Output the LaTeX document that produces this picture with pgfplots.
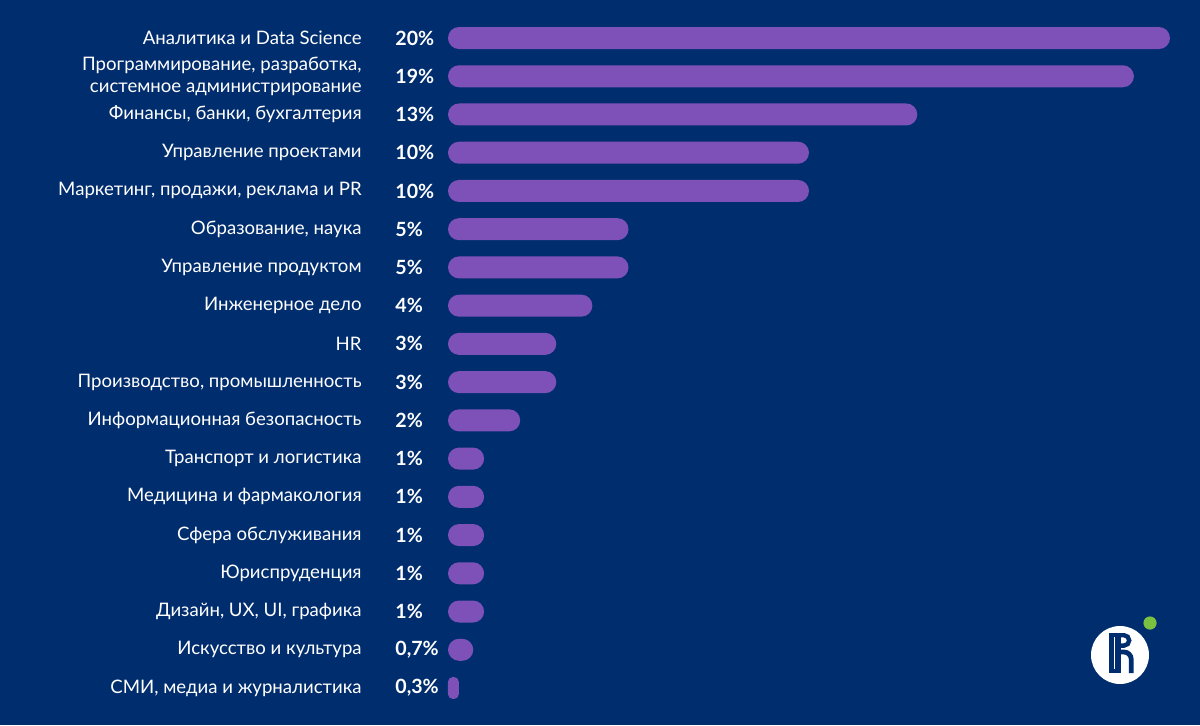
\documentclass[border=0pt]{standalone}
\usepackage{pgfplots}
\pgfplotsset{compat=1.18}
\usepackage{pgfplotstable}
\usepackage{fontspec}
\setmainfont{Lato}
\definecolor{bg}{RGB}{0,45,110}
\definecolor{barc}{RGB}{126,81,185}
\definecolor{hsegreen}{RGB}{122,193,66}
\pgfplotstableread{
y v pct
0 20 {20\%}
1 19 {19\%}
2 13 {13\%}
3 10 {10\%}
4 10 {10\%}
5 5 {5\%}
6 5 {5\%}
7 4 {4\%}
8 3 {3\%}
9 3 {3\%}
10 2 {2\%}
11 1 {1\%}
12 1 {1\%}
13 1 {1\%}
14 1 {1\%}
15 1 {1\%}
16 0.7 {0,7\%}
17 0.3 {0,3\%}
}\datatable
\begin{document}
\begin{tikzpicture}
\fill[bg] (0,0) rectangle (600pt,362.5pt);
\begin{axis}[
  at={(224pt,8.95pt)}, anchor=south west,
  scale only axis, width=361pt, height=344.1pt,
  xmin=0, xmax=20, ymin=-0.5, ymax=17.5, y dir=reverse,
  axis line style={draw=none}, tick style={draw=none},
  xtick=\empty, ytick={0,...,17},
  yticklabels={
    Аналитика и Data Science,
    {Программирование, разработка,\\системное администрирование},
    {Финансы, банки, бухгалтерия},
    Управление проектами,
    {Маркетинг, продажи, реклама и PR},
    {Образование, наука},
    Управление продуктом,
    Инженерное дело,
    HR,
    {Производство, промышленность},
    Информационная безопасность,
    Транспорт и логистика,
    Медицина и фармакология,
    Сфера обслуживания,
    Юриспруденция,
    {Дизайн, UX, UI, графика},
    Искусство и культура,
    {СМИ, медиа и журналистика}},
  yticklabel style={anchor=east, inner sep=0pt, xshift=-43pt, align=right,
    text=white, font=\fontsize{9.3}{11}\selectfont},
  clip=false,
]
\addplot[xbar, fill=barc, draw=none, bar width=11pt, bar shift=0pt, rounded corners=5.5pt]
  table[x=v, y=y, restrict expr to domain={\thisrow{y}}{0:16}] {\datatable};
\addplot[xbar, fill=barc, draw=none, bar width=11pt, bar shift=0pt, rounded corners=2.4pt]
  table[x=v, y=y, restrict expr to domain={\thisrow{y}}{17:17}] {\datatable};
\addplot[draw=none, mark=none, nodes near coords, point meta=explicit symbolic,
  every node near coord/.append style={anchor=west, inner sep=0pt, text=white,
    font=\fontsize{9.8}{12}\selectfont\bfseries}]
  table[x expr=-1.468, y=y, meta=pct] {\datatable};
\end{axis}
% logo
\fill[white] (560pt,35pt) circle (14.5pt);
\fill[hsegreen] (575pt,51pt) circle (3.3pt);
\fill[bg] (554.5pt,26pt) rectangle (560.5pt,46pt);
\draw[white, line width=0.6pt] (557.3pt,28pt) -- (557.3pt,44pt);
\draw[bg, line width=2.2pt] (559pt,44.9pt) -- (562pt,44.9pt) arc(90:-90:2.6pt) -- (559pt,39.7pt);
\draw[bg, line width=2.4pt] (560pt,36.5pt) -- (562pt,36.5pt) arc(90:0:3.6pt) -- (565.6pt,26pt);
\end{tikzpicture}
\end{document}
